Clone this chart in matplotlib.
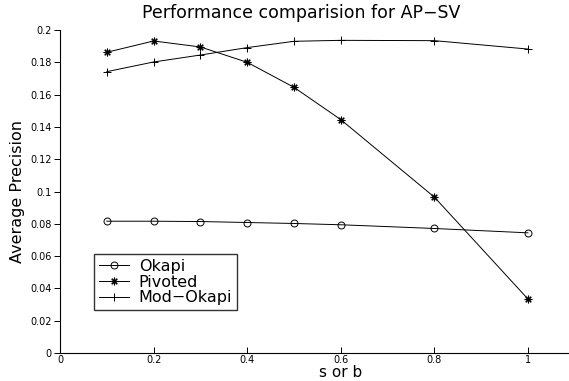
import matplotlib
matplotlib.use("Agg")
from matplotlib import pyplot as plt

plt.rcParams['font.family'] = ['DejaVu Sans']

s_values = [0.1, 0.2, 0.3, 0.4, 0.5, 0.6, 0.8, 1.0]
okapi = [0.0816, 0.0816, 0.0814, 0.0808, 0.0802, 0.0794, 0.0771, 0.0744]
pivoted = [0.1862, 0.1932, 0.1895, 0.1800, 0.1645, 0.1445, 0.0965, 0.0334]
mod_okapi = [0.1742, 0.1802, 0.1845, 0.1891, 0.1930, 0.1936, 0.1934, 0.1882]

x_ticks = [0, 0.2, 0.4, 0.6, 0.8, 1]
y_ticks = [0, 0.02, 0.04, 0.06, 0.08, 0.1, 0.12, 0.14, 0.16, 0.18, 0.2]

fig = plt.figure(figsize=(5.69, 3.81), dpi=100)
ax = fig.add_axes([60 / 569, 28 / 381, 561.6 / 569, 323 / 381])

# asterisk marker like matlab's '*'
star = (8, 2, 0)
ax.plot(s_values, okapi, color='black', lw=0.7, marker='o', ms=5,
        mfc='none', mew=0.7, label='Okapi')
ax.plot(s_values, pivoted, color='black', lw=0.7, marker=star, ms=5.5,
        mew=0.8, label='Pivoted')
ax.plot(s_values, mod_okapi, color='black', lw=0.7, marker='+', ms=6,
        mew=0.7, label='Mod\u2212Okapi')

ax.set_xlim(0, 1.2)
ax.set_ylim(0, 0.2)
ax.set_xticks(x_ticks)
ax.set_xticklabels(['%g' % v for v in x_ticks])
ax.set_yticks(y_ticks)
ax.set_yticklabels(['%g' % v for v in y_ticks])
ax.tick_params(axis='x', direction='in', length=4, width=0.7, labelsize=7, pad=1.5)
ax.tick_params(axis='y', direction='out', length=4, width=0.7, labelsize=7, pad=2)
for side in ['top', 'right']:
    ax.spines[side].set_visible(False)
for side in ['left', 'bottom']:
    ax.spines[side].set_linewidth(0.8)

ax.set_title('Performance comparision for AP\u2212SV', fontsize=12.5, x=(301 - 60) / 561.6, pad=9)
ax.set_xlabel('s or b', fontsize=11, labelpad=0)
ax.set_ylabel('Average Precision', fontsize=11.5, labelpad=4)

leg = ax.legend(loc='upper left', bbox_to_anchor=((94 - 60) / 561.6, (353 - 254) / 323),
                fontsize=11.5, frameon=True, fancybox=False, edgecolor='black',
                handlelength=1.9, handletextpad=0.6, borderpad=0.3, labelspacing=0.05,
                borderaxespad=0)
leg.get_frame().set_linewidth(1.0)

fig.savefig('out.png', dpi=100)
